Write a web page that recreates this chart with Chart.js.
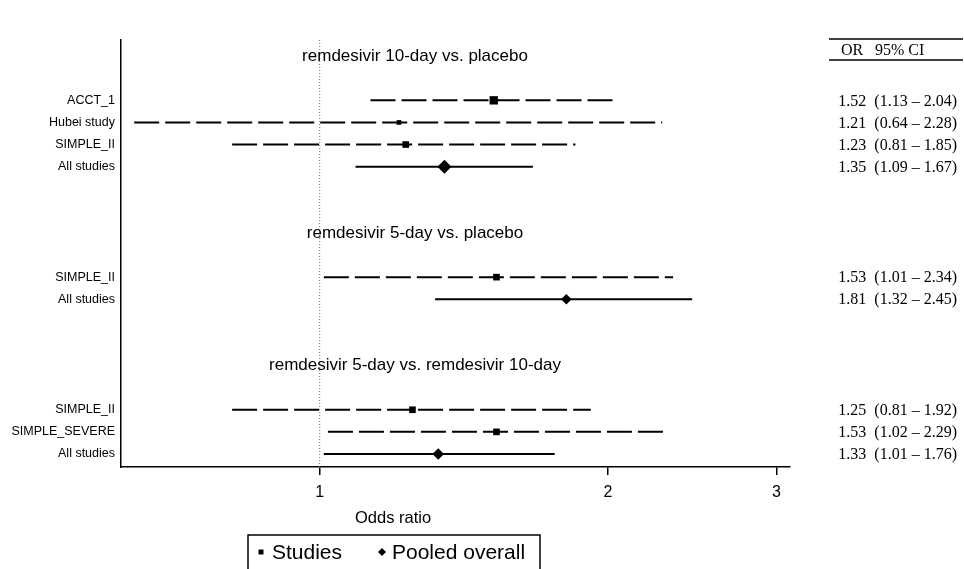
<!DOCTYPE html>
<html>
<head>
<meta charset="utf-8">
<script src="https://cdn.jsdelivr.net/npm/chart.js@4.4.1/dist/chart.umd.min.js"></script>
<style>
  html, body { margin: 0; padding: 0; background: #fff; }
  #wrap { width: 964px; height: 569px; position: relative; }
</style>
</head>
<body>
<div id="wrap"><canvas id="c" width="964" height="569"></canvas></div>
<script>
// ---------- data ----------
const groupTitles = ['remdesivir 10-day vs. placebo', 'remdesivir 5-day vs. placebo', 'remdesivir 5-day vs. remdesivir 10-day'];
const groupRows   = [-2, 6, 12];
const rowLabels   = ['ACCT_1', 'Hubei study', 'SIMPLE_II', 'All studies', 'SIMPLE_II', 'All studies', 'SIMPLE_II', 'SIMPLE_SEVERE', 'All studies'];
const rowPos      = [0, 1, 2, 3, 8, 9, 14, 15, 16];
const oddsRatio   = [1.52, 1.21, 1.23, 1.35, 1.53, 1.81, 1.25, 1.53, 1.33];
const ciLow       = [1.13, 0.64, 0.81, 1.09, 1.01, 1.32, 0.81, 1.02, 1.01];
const ciHigh      = [2.04, 2.28, 1.85, 1.67, 2.34, 2.45, 1.92, 2.29, 1.76];
const isPooled    = [false, false, false, true, false, true, false, false, true];
const xTicks      = [1, 2, 3];
const refValue    = 1;

// ---------- style ----------
const markerRadius = [5.9, 3.3, 4.7, 7, 4.7, 5.3, 4.7, 4.7, 5.8];
const SANS = '"Liberation Sans", Arial, sans-serif';
const SERIF = '"Liberation Serif", "Times New Roman", serif';
const Y_MIN = -2.73, Y_MAX = 16.59;

const datasets = [];
// reference line at OR = 1
datasets.push({
  data: [{x: refValue, y: Y_MIN}, {x: refValue, y: Y_MAX}],
  showLine: true, borderColor: '#6e6e6e', borderWidth: 1, borderDash: [1, 2],
  pointRadius: 0
});
// CI lines
rowPos.forEach((r, i) => {
  datasets.push({
    data: [{x: ciLow[i], y: r}, {x: ciHigh[i], y: r}],
    showLine: true, borderColor: '#000', borderWidth: 2,
    borderDash: isPooled[i] ? [] : [25, 6],
    borderCapStyle: 'butt',
    pointRadius: 0
  });
});
// point estimates
datasets.push({
  data: rowPos.map((r, i) => ({x: oddsRatio[i], y: r})),
  showLine: false,
  pointStyle: isPooled.map(p => p ? 'rectRot' : 'rect'),
  pointRadius: markerRadius,
  backgroundColor: '#000', borderColor: '#000', borderWidth: 0,
  pointBorderWidth: 0
});

const overlay = {
  id: 'overlay',
  afterDraw(chart) {
    const ctx = chart.ctx, ys = chart.scales.y, a = chart.chartArea;
    ctx.save();
    ctx.fillStyle = '#000';
    // group titles
    ctx.font = '17px ' + SANS;
    ctx.textAlign = 'center';
    ctx.textBaseline = 'middle';
    const cx = a.left + 0.4395 * (a.right - a.left);
    groupTitles.forEach((t, i) => ctx.fillText(t, cx, ys.getPixelForValue(groupRows[i])));

    // right table
    const tRight = 957;
    ctx.font = '16px ' + SERIF;
    ctx.textAlign = 'right';
    rowPos.forEach((r, i) => {
      const s = oddsRatio[i].toFixed(2) + '\u00a0\u00a0(' + ciLow[i].toFixed(2) + ' \u2013 ' + ciHigh[i].toFixed(2) + ')';
      ctx.fillText(s, tRight, ys.getPixelForValue(r) + 1);
    });
    // table header
    ctx.textAlign = 'left';
    ctx.fillText('OR', 841, a.top + 11);
    ctx.fillText('95% CI', 875, a.top + 11);
    ctx.strokeStyle = '#000';
    ctx.lineWidth = 1.3;
    ctx.beginPath();
    ctx.moveTo(829, a.top - 1); ctx.lineTo(963, a.top - 1);
    ctx.moveTo(829, a.top + 20); ctx.lineTo(963, a.top + 20);
    ctx.stroke();

    // axis title
    ctx.font = '16.5px ' + SANS;
    ctx.textAlign = 'center';
    ctx.fillText('Odds ratio', 393, a.bottom + 51);

    // legend box
    ctx.lineWidth = 1.5;
    ctx.strokeRect(248, 535, 292, 45);
    ctx.fillRect(258.5, 549.5, 5, 5);
    ctx.beginPath();
    ctx.moveTo(382, 548); ctx.lineTo(386, 552); ctx.lineTo(382, 556); ctx.lineTo(378, 552);
    ctx.closePath(); ctx.fill();
    ctx.font = '21px ' + SANS;
    ctx.textAlign = 'left';
    ctx.fillText('Studies', 272, 553);
    ctx.fillText('Pooled overall', 392, 553);
    ctx.restore();
  }
};

new Chart(document.getElementById('c'), {
  type: 'scatter',
  data: { datasets },
  options: {
    responsive: false,
    animation: false,
    events: [],
    layout: { padding: { top: 40, right: 174, bottom: 0, left: 0 } },
    plugins: { legend: { display: false }, tooltip: { enabled: false }, title: { display: false } },
    scales: {
      x: {
        type: 'logarithmic',
        position: 'bottom',
        bounds: 'data',
        min: 0.62, max: 3.1,
        afterBuildTicks: s => { s.ticks = xTicks.map(v => ({value: v})); },
        afterFit: s => { s.height = 102; },
        ticks: {
          autoSkip: false, maxRotation: 0, padding: 8,
          color: '#000', font: { family: SANS, size: 16 },
          callback: v => String(v)
        },
        grid: { display: true, drawOnChartArea: false, drawTicks: true, tickLength: 8, color: '#000', lineWidth: 1.5 },
        border: { display: true, color: '#000', width: 1.5 }
      },
      y: {
        type: 'linear',
        position: 'left',
        reverse: true,
        min: Y_MIN, max: Y_MAX,
        afterBuildTicks: s => { s.ticks = rowPos.map(v => ({value: v})); },
        afterFit: s => { s.width = 121; },
        ticks: {
          autoSkip: false, padding: 6,
          color: '#000', font: { family: SANS, size: 12.5 },
          callback: (v, i) => rowLabels[i]
        },
        grid: { display: false, drawTicks: false },
        border: { display: true, color: '#000', width: 1.5 }
      }
    }
  },
  plugins: [overlay]
});
</script>
</body>
</html>
